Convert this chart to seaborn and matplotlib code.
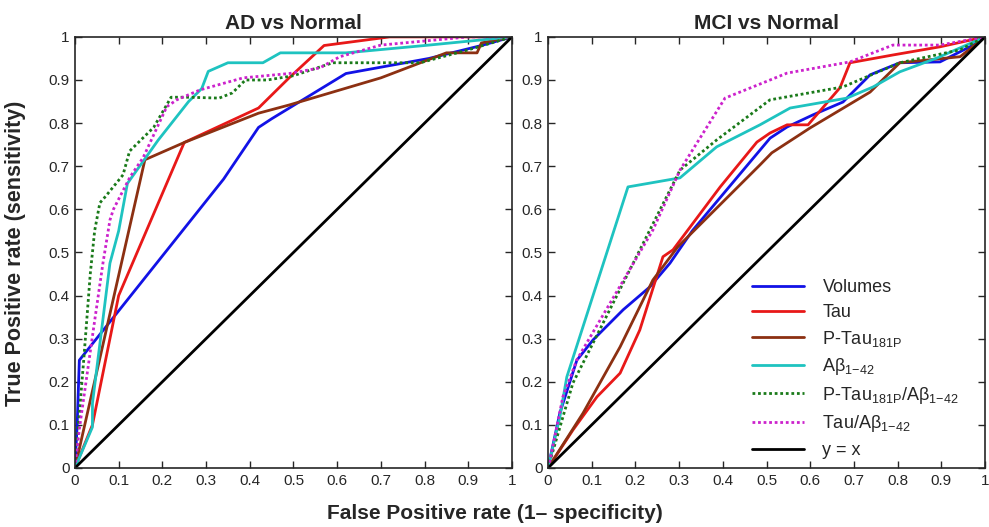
import matplotlib
matplotlib.use("Agg")
import matplotlib.pyplot as plt
import seaborn as sns

# ---- AD vs Normal (left panel) ----
ad_vol_x = [0, 0.005, 0.01, 0.34, 0.42, 0.45, 0.62, 0.81, 0.93, 1]
ad_vol_y = [0, 0.10, 0.25, 0.67, 0.79, 0.81, 0.915, 0.95, 0.98, 1]

ad_tau_x = [0, 0.04, 0.10, 0.25, 0.42, 0.49, 0.57, 0.72, 1]
ad_tau_y = [0, 0.10, 0.40, 0.755, 0.835, 0.905, 0.98, 1, 1]

ad_ptau_x = [0, 0.16, 0.25, 0.42, 0.49, 0.70, 0.85, 0.92, 0.93, 1]
ad_ptau_y = [0, 0.715, 0.755, 0.823, 0.842, 0.905, 0.963, 0.963, 0.986, 1]

ad_ab_x = [0, 0.04, 0.04, 0.08, 0.10, 0.12, 0.19, 0.26, 0.29, 0.305, 0.35,
           0.43, 0.47, 0.62, 0.80, 1]
ad_ab_y = [0, 0.095, 0.15, 0.475, 0.55, 0.66, 0.76, 0.85, 0.88, 0.92, 0.94,
           0.94, 0.963, 0.963, 0.98, 1]

ad_ratio_ptau_x = [0, 0.02, 0.035, 0.045, 0.057, 0.07, 0.11, 0.125, 0.18, 0.22,
                   0.26, 0.33, 0.36, 0.39, 0.44, 0.50, 0.59, 0.79, 0.90, 1]
ad_ratio_ptau_y = [0, 0.25, 0.45, 0.55, 0.615, 0.63, 0.68, 0.735, 0.79, 0.86,
                   0.86, 0.858, 0.87, 0.90, 0.90, 0.91, 0.94, 0.94, 0.97, 1]

ad_ratio_tau_x = [0, 0.01, 0.042, 0.064, 0.08, 0.088, 0.126, 0.156, 0.21,
                  0.233, 0.286, 0.385, 0.49, 0.56, 0.606, 0.70, 0.90, 1]
ad_ratio_tau_y = [0, 0.09, 0.32, 0.475, 0.575, 0.60, 0.675, 0.72, 0.838,
                  0.854, 0.877, 0.905, 0.915, 0.928, 0.954, 0.981, 1, 1]

# ---- MCI vs Normal (right panel) ----
mci_vol_x = [0, 0.027, 0.066, 0.103, 0.172, 0.233, 0.279, 0.33, 0.508, 0.547,
             0.606, 0.675, 0.737, 0.805, 0.897, 0.973, 1]
mci_vol_y = [0, 0.127, 0.25, 0.297, 0.367, 0.42, 0.475, 0.55, 0.765, 0.791,
             0.819, 0.849, 0.912, 0.94, 0.942, 0.981, 1]

mci_tau_x = [0, 0.057, 0.112, 0.165, 0.21, 0.263, 0.286, 0.394, 0.478, 0.508,
             0.547, 0.595, 0.668, 0.691, 0.789, 0.897, 1]
mci_tau_y = [0, 0.088, 0.165, 0.22, 0.32, 0.49, 0.506, 0.652, 0.756, 0.777,
             0.796, 0.796, 0.882, 0.94, 0.958, 0.977, 1]

mci_ptau_x = [0, 0.08, 0.165, 0.24, 0.297, 0.485, 0.512, 0.60, 0.737, 0.805,
              0.943, 1]
mci_ptau_y = [0, 0.127, 0.281, 0.436, 0.513, 0.703, 0.731, 0.789, 0.872, 0.94,
              0.954, 1]

mci_ab_x = [0, 0.027, 0.043, 0.183, 0.302, 0.386, 0.485, 0.554, 0.684, 0.744,
            0.805, 0.89, 1]
mci_ab_y = [0, 0.118, 0.211, 0.652, 0.673, 0.745, 0.796, 0.835, 0.858, 0.884,
            0.919, 0.951, 1]

mci_ratio_ptau_x = [0, 0.034, 0.057, 0.233, 0.302, 0.386, 0.508, 0.675, 0.805,
                    0.943, 1]
mci_ratio_ptau_y = [0, 0.118, 0.197, 0.552, 0.691, 0.761, 0.854, 0.884, 0.94,
                    0.97, 1]

mci_ratio_tau_x = [0, 0.005, 0.034, 0.066, 0.24, 0.302, 0.405, 0.508, 0.547,
                   0.691, 0.789, 0.897, 1]
mci_ratio_tau_y = [0, 0.019, 0.165, 0.251, 0.552, 0.691, 0.858, 0.90, 0.916,
                   0.942, 0.981, 0.981, 1]

diag = [0, 1]

labels = ["Volumes", "Tau", r"P-Tau$_{181P}$", r"A$\beta_{1\!-\!42}$",
          r"P-Tau$_{181P}$/A$\beta_{1\!-\!42}$", r"Tau/A$\beta_{1\!-\!42}$", "y = x"]
colors = ["#1212e6", "#e81818", "#8c3012", "#1ec3c0", "#1a7a1a", "#cc22cc", "black"]
styles = ["-", "-", "-", "-", (0, (1, 1)), (0, (1, 1)), "-"]

panels = [
    ("AD vs Normal", [(ad_vol_x, ad_vol_y), (ad_tau_x, ad_tau_y), (ad_ptau_x, ad_ptau_y),
                      (ad_ab_x, ad_ab_y), (ad_ratio_ptau_x, ad_ratio_ptau_y),
                      (ad_ratio_tau_x, ad_ratio_tau_y), (diag, diag)]),
    ("MCI vs Normal", [(mci_vol_x, mci_vol_y), (mci_tau_x, mci_tau_y), (mci_ptau_x, mci_ptau_y),
                       (mci_ab_x, mci_ab_y), (mci_ratio_ptau_x, mci_ratio_ptau_y),
                       (mci_ratio_tau_x, mci_ratio_tau_y), (diag, diag)]),
]

sns.set_style("ticks")
plt.rcParams["font.family"] = ["Liberation Sans", "DejaVu Sans"]
plt.rcParams["mathtext.fontset"] = "custom"
plt.rcParams["mathtext.rm"] = "Liberation Sans"
plt.rcParams["mathtext.it"] = "Liberation Sans"

fig = plt.figure(figsize=(9.89, 5.27), dpi=100)
ax_left = fig.add_axes([0.0758, 0.112, 0.4419, 0.818])
ax_right = fig.add_axes([0.5541, 0.112, 0.4419, 0.818])

ticks = [i / 10 for i in range(11)]
tick_labels = ["0"] + [f"{t:.1f}" for t in ticks[1:-1]] + ["1"]

for ax, (title, series) in zip([ax_left, ax_right], panels):
    for (xs, ys), lab, col, ls in zip(series, labels, colors, styles):
        sns.lineplot(x=xs, y=ys, ax=ax, sort=False, estimator=None, color=col,
                     linestyle=ls, linewidth=2.0, label=lab, legend=False)
    ax.set_xlim(0, 1)
    ax.set_ylim(0, 1)
    ax.set_xticks(ticks)
    ax.set_xticklabels(tick_labels)
    ax.set_yticks(ticks)
    ax.set_yticklabels(tick_labels)
    ax.tick_params(direction="in", top=True, right=True, length=5, width=1,
                   labelsize=11, pad=4)
    for sp in ax.spines.values():
        sp.set_linewidth(1.2)
    ax.set_title(title, fontsize=15, fontweight="bold", pad=6)

ax_right.legend(loc="lower right", bbox_to_anchor=(0.962, 0.0), frameon=False,
                fontsize=13, handlelength=2.9, handletextpad=1.0,
                labelspacing=0.42, borderaxespad=0.1)

fig.text(0.5, 0.025, "False Positive rate (1\u2013 specificity)", ha="center",
         va="center", fontsize=15, fontweight="bold")
fig.text(0.016, 0.52, "True Positive rate (sensitivity)", ha="center",
         va="center", rotation=90, fontsize=15.5, fontweight="bold")

fig.savefig("out.png", dpi=100)
